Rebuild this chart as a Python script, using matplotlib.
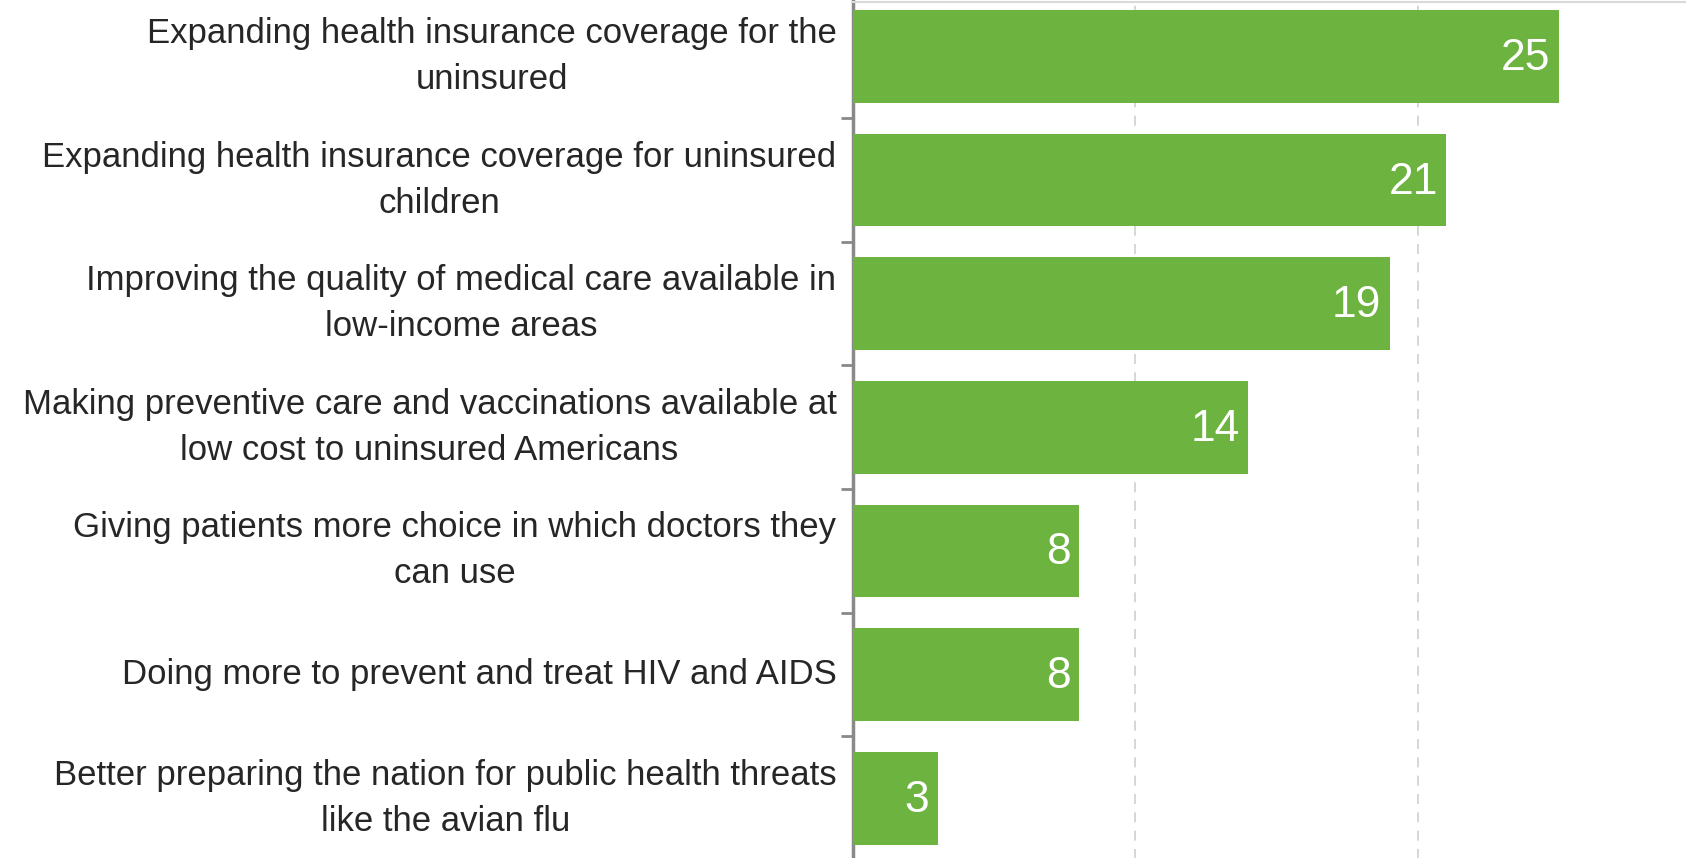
import numpy as np
import matplotlib.pyplot as plt
from matplotlib.lines import Line2D

# 数据
labels = [
    "Expanding health insurance coverage for the\nuninsured",
    "Expanding health insurance coverage for uninsured\nchildren",
    "Improving the quality of medical care available in\nlow-income areas",
    "Making preventive care and vaccinations available at\nlow cost to uninsured Americans",
    "Giving patients more choice in which doctors they\ncan use",
    "Doing more to prevent and treat HIV and AIDS",
    "Better preparing the nation for public health threats\nlike the avian flu",
]
values = [25, 21, 19, 14, 8, 8, 3]

BAR_COLOR = '#6db33f'
TEXT_COLOR = '#262626'
AXIS_COLOR = '#898989'

plt.rcParams['font.family'] = ['Liberation Sans', 'DejaVu Sans']

fig = plt.figure(figsize=(16.86, 8.58), dpi=100)
ax = fig.add_axes([0.506, -0.0023, 0.494, 1.0086])

y = np.arange(len(labels))
bars = ax.barh(y, values, height=0.75, color=BAR_COLOR, zorder=3)

# 数值标签（白色，放在条形内部末端）
for rect, v in zip(bars, values):
    ax.annotate(str(v), xy=(rect.get_width(), rect.get_y() + rect.get_height() / 2),
                xytext=(-6, -1.5), textcoords='offset points',
                ha='right', va='center', color='white', fontsize=32, zorder=4)

ax.set_ylim(len(labels) - 0.5, -0.5)
ax.set_xlim(0, 29.5)

# 分类标签
ax.set_yticks(y)
ax.set_yticklabels(labels, fontsize=25, color=TEXT_COLOR, linespacing=1.5,
                   multialignment='center', va='center')
ax.tick_params(axis='y', which='major', length=0, pad=12)

# 分类分隔刻度
ax.set_yticks(np.arange(len(labels) - 1) + 0.5, minor=True)
ax.tick_params(axis='y', which='minor', length=9, width=2, color=AXIS_COLOR, direction='out')

# 网格
ax.set_xticks([10, 20])
ax.tick_params(axis='x', length=0, labelbottom=False)
ax.grid(axis='x', color='#d0d0d0', linestyle=(0, (6, 5)), linewidth=1.2, zorder=0)

for s in ['right', 'bottom', 'top']:
    ax.spines[s].set_visible(False)
ax.spines['left'].set_color(AXIS_COLOR)
ax.spines['left'].set_linewidth(2.5)

# 顶部浅灰色边线
fig.add_artist(Line2D([0.506, 1.0], [0.998, 0.998], color='#d9d9d9', linewidth=1.5,
                      transform=fig.transFigure))

fig.savefig('out.png', dpi=100)
